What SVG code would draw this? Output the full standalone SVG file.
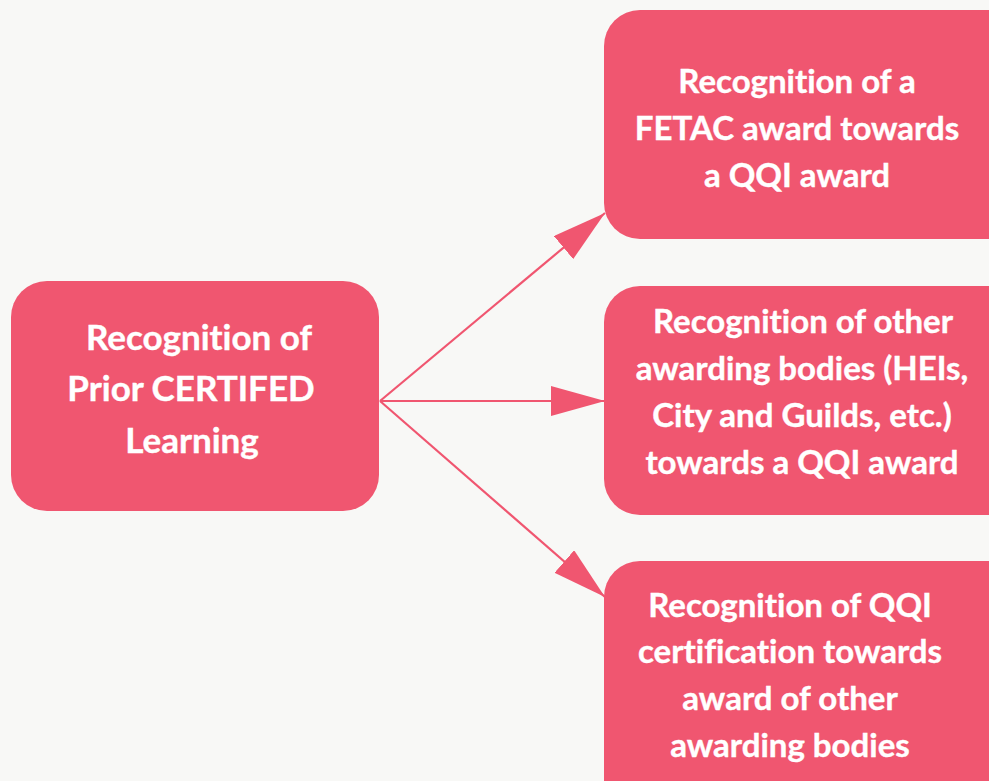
<svg xmlns="http://www.w3.org/2000/svg" width="989" height="781" viewBox="0 0 989 781">
<style>
.box{fill:#f05670}
.t{font-family:Lato,"Liberation Sans",sans-serif;font-weight:bold;font-size:33px;fill:#ffffff;stroke:#ffffff;stroke-width:0.4;text-anchor:middle;font-variant-ligatures:none}
.big{font-size:35px}
.c{stroke:#f05670;stroke-width:2.2;fill:none}
</style>
<defs>
<marker id="ah" viewBox="0 0 54 30" refX="54" refY="15" markerWidth="54" markerHeight="30" markerUnits="userSpaceOnUse" orient="auto">
<path d="M0,0 L54,15 L0,30 Z" fill="#f05670"/>
</marker>
</defs>
<rect width="989" height="781" fill="#f8f8f6"/>
<g id="connectors">
<line class="c" x1="380" y1="401" x2="605" y2="213" marker-end="url(#ah)"/>
<line class="c" x1="380" y1="401" x2="605" y2="401" marker-end="url(#ah)"/>
<line class="c" x1="380" y1="401" x2="605" y2="597" marker-end="url(#ah)"/>
</g>
<g id="source">
<rect class="box" x="11" y="281" width="368" height="230" rx="36"/>
<text class="t big" x="199" y="350">Recognition of</text>
<text class="t big" x="191" y="401">Prior CERTIFED</text>
<text class="t big" x="192" y="453">Learning</text>
</g>
<g id="fetac">
<rect class="box" x="604" y="10" width="420" height="229" rx="36"/>
<text class="t" x="797" y="93">Recognition of a</text>
<text class="t" x="797" y="140">FETAC award towards</text>
<text class="t" x="797" y="187">a QQI award</text>
</g>
<g id="other-bodies">
<rect class="box" x="604" y="286" width="420" height="229" rx="36"/>
<text class="t" x="803" y="333">Recognition of other</text>
<text class="t" x="802" y="380">awarding bodies (HEIs,</text>
<text class="t" x="802" y="427">City and Guilds, etc.)</text>
<text class="t" x="802" y="474">towards a QQI award</text>
</g>
<g id="qqi-cert">
<rect class="box" x="604" y="561" width="420" height="260" rx="36"/>
<text class="t" x="790" y="617">Recognition of QQI</text>
<text class="t" x="790" y="663">certification towards</text>
<text class="t" x="790" y="710">award of other</text>
<text class="t" x="790" y="757">awarding bodies</text>
</g>
</svg>
